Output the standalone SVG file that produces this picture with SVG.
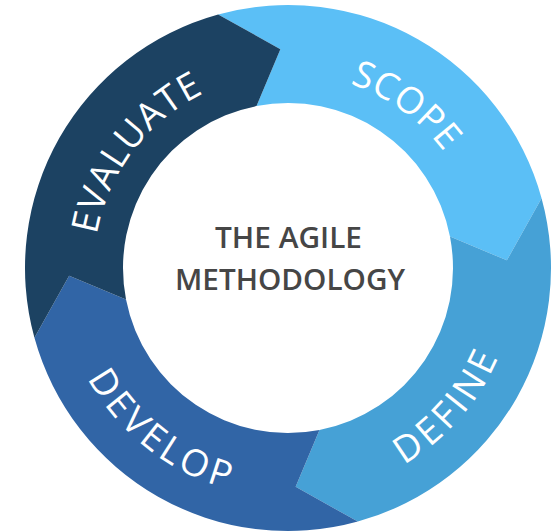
<svg xmlns="http://www.w3.org/2000/svg" xmlns:xlink="http://www.w3.org/1999/xlink" width="553" height="532" viewBox="0 0 553 532">
  <style>
    .lbl { font-family: "Open Sans", "Liberation Sans", sans-serif; font-size: 37px; font-weight: 500; fill: #ffffff; }
    .ctr { font-family: "Open Sans", "Liberation Sans", sans-serif; font-size: 28px; font-weight: 600; fill: #464646; text-anchor: middle; }
  </style>
  <defs>
    <path id="p-scope" d="M152.87,129.02 A194 194 0 0 1 462.62,353.14"/>
    <path id="p-evaluate" d="M146.12,400.30 A194 194 0 0 1 376.07,95.15"/>
    <path id="p-define" d="M168.95,463.26 A229 229 0 0 0 466.96,124.98"/>
    <path id="p-develop" d="M86.37,159.43 A229 229 0 0 0 440.30,438.99"/>
  </defs>
  <rect width="553" height="532" fill="#ffffff"/>
  <g id="scope">
    <path d="M218.15,14.44 A263 263 0 0 1 541.56,198.15 L506.87,260.36 L449.97,236.52 A165 165 0 0 0 256.52,106.03 L280.36,49.13 Z" fill="#5bbff6"/>
    <text class="lbl"><textPath xlink:href="#p-scope" href="#p-scope" startOffset="50%" text-anchor="middle" textLength="118" lengthAdjust="spacing">SCOPE</textPath></text>
  </g>
  <g id="define">
    <path d="M541.56,198.15 A263 263 0 0 1 357.85,521.56 L295.64,486.87 L319.48,429.97 A165 165 0 0 0 449.97,236.52 L506.87,260.36 Z" fill="#46a1d6"/>
    <text class="lbl"><textPath xlink:href="#p-define" href="#p-define" startOffset="50%" text-anchor="middle" textLength="145" lengthAdjust="spacing">DEFINE</textPath></text>
  </g>
  <g id="develop">
    <path d="M357.85,521.56 A263 263 0 0 1 34.44,337.85 L69.13,275.64 L126.03,299.48 A165 165 0 0 0 319.48,429.97 L295.64,486.87 Z" fill="#3165a6"/>
    <text class="lbl"><textPath xlink:href="#p-develop" href="#p-develop" startOffset="50%" text-anchor="middle" textLength="183" lengthAdjust="spacing">DEVELOP</textPath></text>
  </g>
  <g id="evaluate">
    <path d="M34.44,337.85 A263 263 0 0 1 218.15,14.44 L280.36,49.13 L256.52,106.03 A165 165 0 0 0 126.03,299.48 L69.13,275.64 Z" fill="#1c4262"/>
    <text class="lbl"><textPath xlink:href="#p-evaluate" href="#p-evaluate" startOffset="50%" text-anchor="middle" textLength="184" lengthAdjust="spacing">EVALUATE</textPath></text>
  </g>
  <g id="center">
    <text class="ctr" x="288.5" y="248" textLength="147" lengthAdjust="spacingAndGlyphs">THE AGILE</text>
    <text class="ctr" x="290" y="290" textLength="230" lengthAdjust="spacingAndGlyphs">METHODOLOGY</text>
  </g>
  <g id="connectors"/>
</svg>
